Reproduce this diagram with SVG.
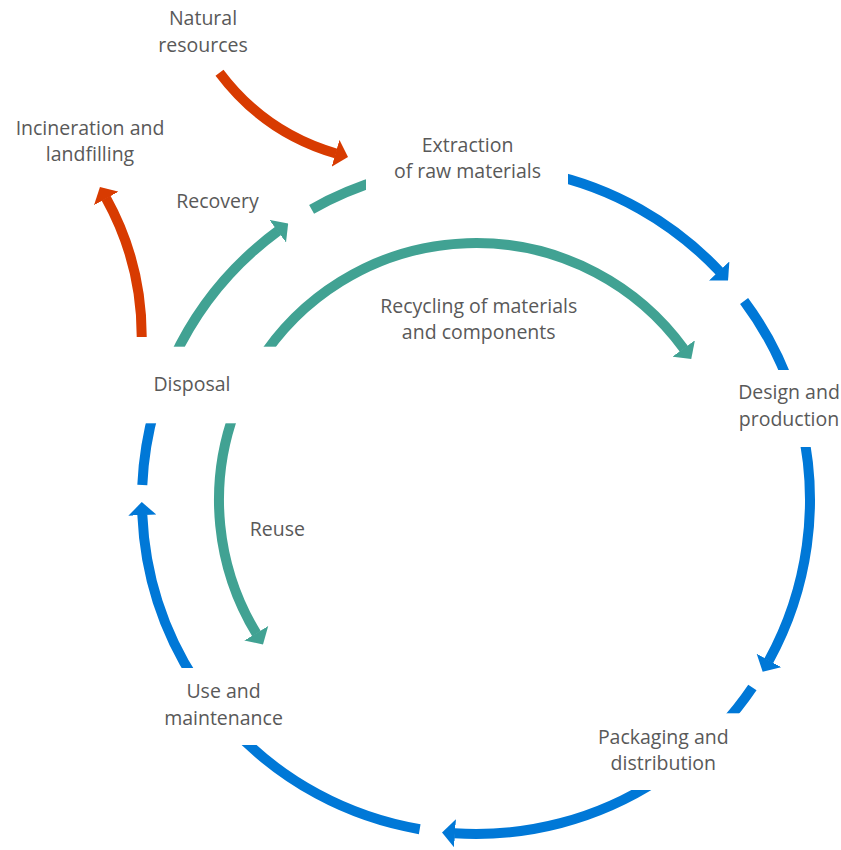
<svg xmlns="http://www.w3.org/2000/svg" width="841" height="850" viewBox="0 0 841 850">
<style>
.t{font-family:"Open Sans","Noto Sans","Liberation Sans",sans-serif;font-size:19.5px;fill:#595959;text-anchor:middle}
.c{fill:none;stroke-width:10;stroke-linecap:butt}
.b{stroke:#0078D7}
.g{stroke:#41A293}
.r{stroke:#D83B01}
</style>
<defs>
<marker id="ab" viewBox="0 -14 13 28" refX="0.5" refY="0" markerWidth="13" markerHeight="28" markerUnits="userSpaceOnUse" orient="auto"><path d="M0,-14 L13,0 L0,14Z" fill="#0078D7"/></marker>
<marker id="ag" viewBox="0 -14 13 28" refX="0.5" refY="0" markerWidth="13" markerHeight="28" markerUnits="userSpaceOnUse" orient="auto"><path d="M0,-14 L13,0 L0,14Z" fill="#41A293"/></marker>
<marker id="ar" viewBox="0 -14 13 28" refX="0.5" refY="0" markerWidth="13" markerHeight="28" markerUnits="userSpaceOnUse" orient="auto"><path d="M0,-14 L13,0 L0,14Z" fill="#D83B01"/></marker>
<mask id="lbl" maskUnits="userSpaceOnUse" x="0" y="0" width="841" height="850">
<rect x="0" y="0" width="841" height="850" fill="#fff"/>
<rect x="366" y="120" width="202" height="80" fill="#000"/>
<rect x="725" y="370" width="116" height="77" fill="#000"/>
<rect x="590" y="713.3" width="170" height="76.7" fill="#000"/>
<rect x="150" y="668" width="150" height="77" fill="#000"/>
<rect x="100" y="346.7" width="200" height="76.6" fill="#000"/>
</mask>
</defs>
<rect x="0" y="0" width="841" height="850" fill="#fff"/>
<g id="connectors" mask="url(#lbl)">
<path class="c b" d="M545.4,173.3 A334,334 0 0 1 719.5,271.4" marker-end="url(#ab)"/>
<path class="c b" d="M744.1,300.9 A334,334 0 0 1 793.7,396.8"/>
<path class="c b" d="M801.4,424.9 A334,334 0 0 1 768.7,660.9" marker-end="url(#ab)"/>
<path class="c b" d="M752.4,687.5 A334,334 0 0 1 720.3,727.8"/>
<path class="c b" d="M657.9,780.1 A334,334 0 0 1 454.5,833.3" marker-end="url(#ab)"/>
<path class="c b" d="M419.7,829.2 A334,334 0 0 1 231.7,727.8"/>
<path class="c b" d="M195.9,681.9 A334,334 0 0 1 142.3,514.6" marker-end="url(#ab)"/>
<path class="c b" d="M142.3,485 A334,334 0 0 1 154.9,407.9"/>
<path class="c g" d="M173.3,358.8 A334,334 0 0 1 278.1,230.9" marker-end="url(#ag)"/>
<path class="c g" d="M311.6,209.3 A334,334 0 0 1 383.9,178.9"/>
<path class="c g" d="M258.1,363.8 A257,257 0 0 1 683.9,348.9" marker-end="url(#ag)"/>
<path class="c g" d="M234.5,412.1 A257,257 0 0 0 256.5,633.7" marker-end="url(#ag)"/>
<path class="c r" d="M141.7,337 A285,285 0 0 0 106,198" marker-end="url(#ar)"/>
<path class="c r" d="M219.5,72.7 Q264.5,132.7 336,153.5" marker-end="url(#ar)"/>
</g>
<g id="natural-resources"><text class="t" x="203" y="25">Natural</text><text class="t" x="203" y="51.7">resources</text></g>
<g id="incineration"><text class="t" x="90" y="135">Incineration and</text><text class="t" x="90" y="161">landfilling</text></g>
<g id="recovery"><text class="t" x="217.5" y="207.7">Recovery</text></g>
<g id="extraction"><text class="t" x="467.5" y="151.7">Extraction</text><text class="t" x="467.5" y="178.3">of raw materials</text></g>
<g id="recycling"><text class="t" x="478.7" y="312.7">Recycling of materials</text><text class="t" x="478.7" y="339.3">and components</text></g>
<g id="design"><text class="t" x="789" y="399.3">Design and</text><text class="t" x="789" y="425.5">production</text></g>
<g id="disposal"><text class="t" x="192" y="390.7">Disposal</text></g>
<g id="reuse"><text class="t" x="277.3" y="535.7">Reuse</text></g>
<g id="use"><text class="t" x="223.5" y="698">Use and</text><text class="t" x="223.5" y="725">maintenance</text></g>
<g id="packaging"><text class="t" x="663.3" y="744">Packaging and</text><text class="t" x="663.3" y="769.5">distribution</text></g>
</svg>
